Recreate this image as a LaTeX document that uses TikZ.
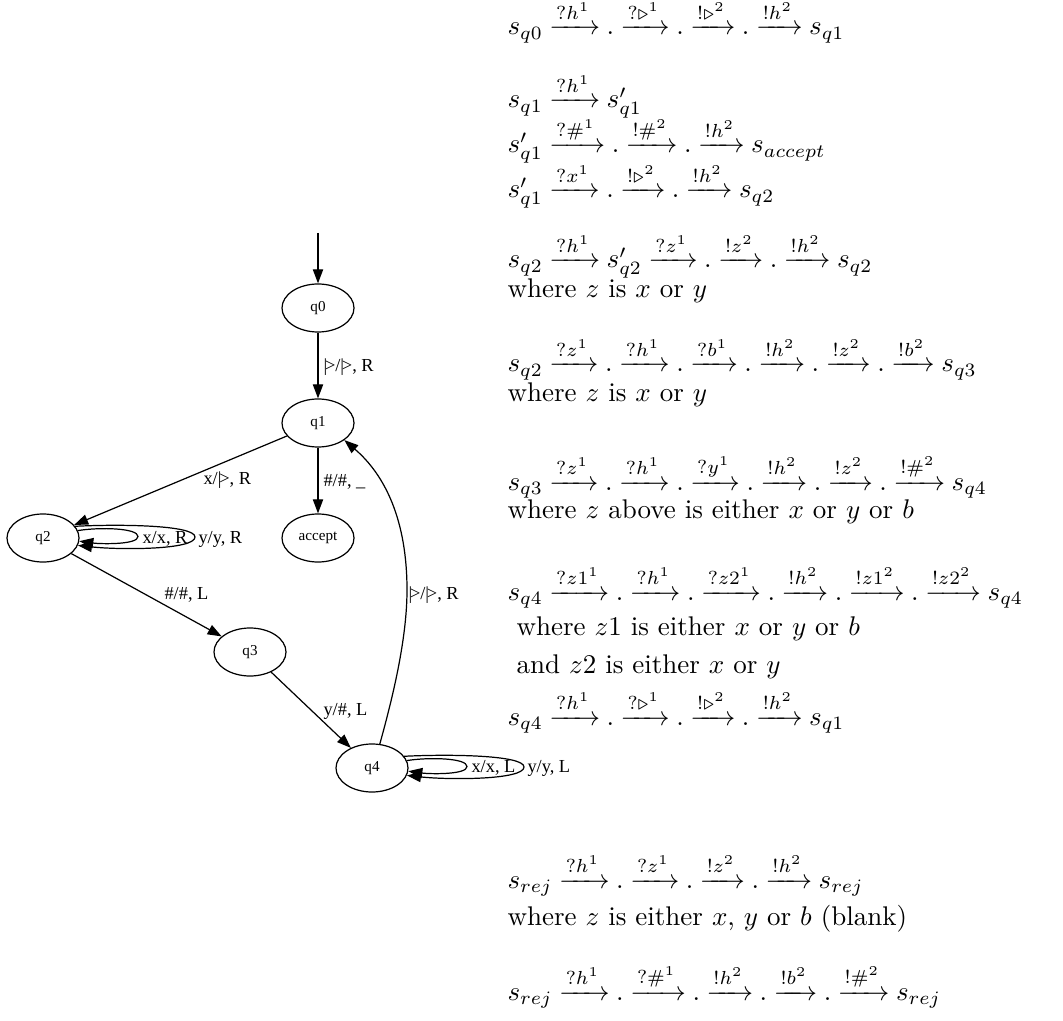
\documentclass[tikz,border=0pt]{standalone}
\usepackage{amsmath,amssymb}
\usepackage{fontspec}
\newfontfamily\gvfont{Liberation Serif}
\usetikzlibrary{arrows.meta,shapes.geometric,calc}
\newcommand{\tri}{\triangleright}
\newcommand{\gvlt}{|\kern-0.12em>}
\newcommand{\xr}[1]{\mathrel{\mkern-0.6mu\xrightarrow{#1}\mkern-0.6mu}}
\newcommand{\dt}{\mathbf{.}}
\begin{document}
\begin{tikzpicture}[x=0.3704pt,y=-0.3704pt,
  st/.style={ellipse,draw,line width=0.45pt,minimum width=26.67pt,minimum height=17.78pt,inner sep=0pt,font=\gvfont\fontsize{5.6}{7}\selectfont},
  arr/.style={line width=0.45pt,-{Triangle[length=5.2pt,width=3.8pt]}},
  elab/.style={anchor=west,inner sep=0pt,font=\gvfont\fontsize{6.8}{8}\selectfont},
  row/.style={anchor=base west,inner sep=0pt}]
\useasboundingbox (0,0) rectangle (1063,1021);

% ---- graph ----
\node[st] (q0) at (318,308) {q0};
\node[st] (q1) at (318,423) {q1};
\node[st] (acc) at (318,538) {accept};
\node[st] (q2) at (43,538) {q2};
\node[st] (q3) at (250,652) {q3};
\node[st] (q4) at (372,768) {q4};
\coordinate (start) at (318,233);

\draw[arr] (start) -- (q0);
\draw[arr] (q0) -- (q1);
\draw[arr] (q1) -- (acc);
\draw[arr] (q1) -- (q2);
\draw[arr] (q2) -- (q3);
\draw[arr] (q3) -- (q4);
\draw[arr] (q4.72) .. controls (392,700) and (407,640) .. (407,590)
   .. controls (407,520) and (385,475) .. (q1.-33);

% self loops q2
\draw[arr] (q2.12) .. controls (100,527) and (138,528) .. (138,536.5)
   .. controls (138,545) and (100,544) .. (q2.-5);
\draw[arr] (q2.20) .. controls (120,524) and (195,525) .. (195,537)
   .. controls (195,550) and (120,550) .. (q2.-12);
% self loops q4
\draw[arr] (q4.12) .. controls (429,757) and (467,758) .. (467,766.5)
   .. controls (467,775) and (429,774) .. (q4.-5);
\draw[arr] (q4.20) .. controls (449,754) and (524,755) .. (524,767)
   .. controls (524,780) and (449,780) .. (q4.-12);

% edge labels
\node[elab] (l01) at (323,367) {\gvlt/\gvlt, R};
\node[elab] (l12) at (203,480) {x/\gvlt, R};
\node[elab] (l1a) at (323,482) {\#/\#, \_};
\node[elab] (l22a) at (142,539) {x/x, R};
\node[elab] (l22b) at (198,539) {y/y, R};
\node[elab] (l23) at (164,595) {\#/\#, L};
\node[elab] (l34) at (323,711) {y/\#, L};
\node[elab] (l41) at (408,595) {\gvlt/\gvlt, R};
\node[elab] (l44a) at (471,768) {x/x, L};
\node[elab] (l44b) at (527,768) {y/y, L};

% ---- text ----
\node[row] (r1) at (507,35) {$s_{q0} \xr{?h^1} \dt \xr{?\tri^1} \dt \xr{!\tri^2} \dt \xr{!h^2} s_{q1}$};
\node[row] (r2) at (507,108) {$s_{q1} \xr{?h^1} s'_{q1}$};
\node[row] (r3) at (507,153) {$s'_{q1} \xr{?\#^1} \dt \xr{!\#^2} \dt \xr{!h^2} s_{accept}$};
\node[row] (r4) at (507,198) {$s'_{q1} \xr{?x^1} \dt \xr{!\tri^2} \dt \xr{!h^2} s_{q2}$};
\node[row] (r5) at (507,268) {$s_{q2} \xr{?h^1} s'_{q2} \xr{?z^1} \dt \xr{!z^2} \dt \xr{!h^2} s_{q2}$};
\node[row] (w5) at (507,298) {where $z$ is $x$ or $y$};
\node[row] (r6) at (507,372) {$s_{q2} \xr{?z^1} \dt \xr{?h^1} \dt \xr{?b^1} \dt \xr{!h^2} \dt \xr{!z^2} \dt \xr{!b^2} s_{q3}$};
\node[row] (w6) at (507,402) {where $z$ is $x$ or $y$};
\node[row] (r7) at (507,490) {$s_{q3} \xr{?z^1} \dt \xr{?h^1} \dt \xr{?y^1} \dt \xr{!h^2} \dt \xr{!z^2} \dt \xr{!\#^2} s_{q4}$};
\node[row] (w7) at (507,518) {where $z$ above is either $x$ or $y$ or $b$};
\node[row] (r8) at (507,600) {$s_{q4} \xr{?z1^1} \dt \xr{?h^1} \dt \xr{?z2^1} \dt \xr{!h^2} \dt \xr{!z1^2} \dt \xr{!z2^2} s_{q4}$};
\node[row] (w8a) at (516,635) {where $z1$ is either $x$ or $y$ or $b$};
\node[row] (w8b) at (516,673) {and $z2$ is either $x$ or $y$};
\node[row] (r9) at (507,725) {$s_{q4} \xr{?h^1} \dt \xr{?\tri^1} \dt \xr{!\tri^2} \dt \xr{!h^2} s_{q1}$};
\node[row] (r10) at (507,888) {$s_{rej} \xr{?h^1} \dt \xr{?z^1} \dt \xr{!z^2} \dt \xr{!h^2} s_{rej}$};
\node[row] (w10) at (507,925) {where $z$ is either $x$, $y$ or $b$ (blank)};
\node[row] (r11) at (507,1000) {$s_{rej} \xr{?h^1} \dt \xr{?\#^1} \dt \xr{!h^2} \dt \xr{!b^2} \dt \xr{!\#^2} s_{rej}$};
\end{tikzpicture}
\end{document}
